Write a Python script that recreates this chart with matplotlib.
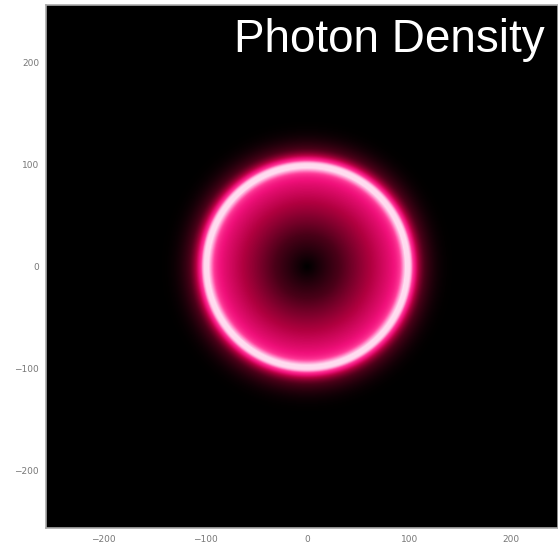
import numpy as np
import matplotlib
matplotlib.use("Agg")
import matplotlib.pyplot as plt
from matplotlib.colors import LinearSegmentedColormap

# grid and ring parameters (units of the plot axes)
half_size = 256
ring_radius = 100
core_width = 3
band_width = 8
halo_width = 20
inner_level = 0.64

x_ticks = [-200, -100, 0, 100, 200]
y_ticks = [-200, -100, 0, 100, 200]
title = "Photon Density"

# pink "hot" colormap: black -> crimson -> hot pink -> white
cmap_colors = ["#000000", "#4a0018", "#b0003f", "#f0107a", "#ff3a98", "#ff9ad0", "#ffdcf0"]
cmap_stops = [0.0, 0.2, 0.4, 0.55, 0.7, 0.85, 1.0]
pink = LinearSegmentedColormap.from_list("pink_hot", list(zip(cmap_stops, cmap_colors)))

xs = np.arange(-half_size, half_size) + 0.5
X, Y = np.meshgrid(xs, xs)
R = np.hypot(X, Y)
d = R - ring_radius

core = 0.25 * np.exp(-(d / core_width) ** 2)
band = 0.4 * np.exp(-(d / band_width) ** 2)
halo = 0.35 * np.exp(-(d / halo_width) ** 2)
inner = np.where(R < ring_radius, inner_level * R / ring_radius, 0.0)
density = np.clip(core + band + np.maximum(halo, inner), 0, 1)

fig = plt.figure(figsize=(5.58, 5.49), dpi=100)
ax = fig.add_axes([46 / 558, 21 / 549, 1 - 46 / 558, 523 / 549])
ax.imshow(density, cmap=pink, vmin=0, vmax=1, origin="lower",
          extent=[-half_size, half_size, -half_size, half_size],
          interpolation="bilinear", aspect="auto")
ax.set_xlim(-half_size, 246)
ax.set_ylim(-half_size, half_size)

ax.set_xticks(x_ticks)
ax.set_yticks(y_ticks)
ax.set_xticklabels([str(t).replace("-", "\u2212") for t in x_ticks])
ax.set_yticklabels([str(t).replace("-", "\u2212") for t in y_ticks])
ax.tick_params(length=0, labelsize=6.5, labelcolor="#777777", pad=5)
for s in ax.spines.values():
    s.set_color("#aaaaaa")
    s.set_linewidth(1.2)

fig.text(545 / 558, 1 - 52 / 549, title, color="white", fontsize=33,
         family="Liberation Sans", ha="right", va="baseline")

fig.savefig("out.png", dpi=100)
